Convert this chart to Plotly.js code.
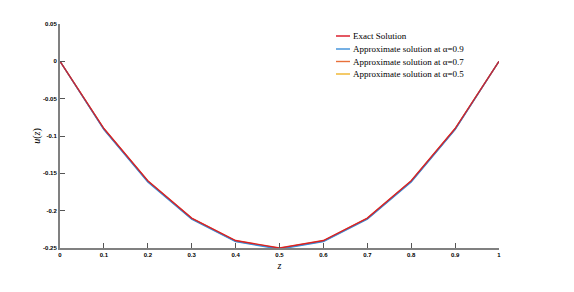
<!DOCTYPE html>
<html>
<head>
<meta charset="utf-8">
<script src="https://cdn.plot.ly/plotly-3.0.1.min.js"></script>
<style>html,body{margin:0;padding:0;background:#fff;}#chart{width:574px;height:292px;}</style>
</head>
<body>
<div id="chart"></div>
<script>
const z = [0, 0.1, 0.2, 0.3, 0.4, 0.5, 0.6, 0.7, 0.8, 0.9, 1];
const exactU = [0, -0.09, -0.16, -0.21, -0.24, -0.25, -0.24, -0.21, -0.16, -0.09, 0];
const approx09 = [0, -0.0915, -0.1615, -0.2115, -0.2415, -0.2515, -0.2415, -0.2115, -0.1615, -0.0915, 0];
const approx07 = [0, -0.0906, -0.1606, -0.2106, -0.2406, -0.2506, -0.2406, -0.2106, -0.1606, -0.0906, 0];
const approx05 = [0, -0.0903, -0.1603, -0.2103, -0.2403, -0.2503, -0.2403, -0.2103, -0.1603, -0.0903, 0];
const seriesNames = ["Exact Solution", "Approximate solution at \u03b1=0.9", "Approximate solution at \u03b1=0.7", "Approximate solution at \u03b1=0.5"];
const xTickVals = [0, 0.1, 0.2, 0.3, 0.4, 0.5, 0.6, 0.7, 0.8, 0.9, 1];
const xTickText = ["0", "0.1", "0.2", "0.3", "0.4", "0.5", "0.6", "0.7", "0.8", "0.9", "1"];
const yTickVals = [0.05, 0, -0.05, -0.1, -0.15, -0.2, -0.25];
const yTickText = ["0.05", "0", "-0.05", "-0.1", "-0.15", "-0.2", "-0.25"];

const colors = ["#d81020", "#3a8fd8", "#e8703a", "#f0b429"];
const ys = [exactU, approx09, approx07, approx05];
const order = [3, 2, 1, 0];
const traces = order.map(i => ({
  x: z, y: ys[i], type: "scatter", mode: "lines", name: seriesNames[i],
  line: {color: colors[i], width: 1.4}, opacity: i === 0 ? 0.85 : 1, showlegend: false
}));

// Compact legend (Plotly's own legend rows are taller than the reference's)
const L = 60, R = 499, T = 24, B = 248;
const px = v => (v - L) / (R - L);
const py = v => (B - v) / (B - T);
const rowY = [36, 49, 61.5, 74];
const shapes = [], annotations = [];
seriesNames.forEach((n, i) => {
  shapes.push({type: "line", xref: "paper", yref: "paper", x0: px(336), x1: px(350),
    y0: py(rowY[i]), y1: py(rowY[i]), line: {color: colors[i], width: 1.4}});
  annotations.push({xref: "paper", yref: "paper", x: px(351), y: py(rowY[i]), xanchor: "left",
    yanchor: "middle", showarrow: false, text: n,
    font: {family: "Liberation Serif", size: 9, color: "#000"}});
});

const layout = {
  width: 574, height: 292,
  margin: {l: 60, r: 75, t: 24, b: 44},
  paper_bgcolor: "#fff", plot_bgcolor: "#fff",
  showlegend: false, shapes, annotations,
  xaxis: {range: [0, 1], tickvals: xTickVals, ticktext: xTickText, ticks: "inside", ticklen: 5,
    tickcolor: "#555", tickwidth: 1, showline: true, linecolor: "#808080", linewidth: 2,
    showgrid: false, zeroline: false,
    tickfont: {family: "Liberation Sans", size: 6, color: "#000", weight: "bold"},
    title: {text: "<i>z</i>", font: {family: "Liberation Serif", size: 10, color: "#000"}, standoff: 5}},
  yaxis: {range: [-0.25, 0.05], tickvals: yTickVals, ticktext: yTickText, ticks: "inside", ticklen: 5,
    tickcolor: "#555", tickwidth: 1, showline: true, linecolor: "#808080", linewidth: 2,
    showgrid: false, zeroline: false,
    tickfont: {family: "Liberation Sans", size: 6, color: "#000", weight: "bold"},
    title: {text: "<i>u</i>(<i>z</i>)", font: {family: "Liberation Serif", size: 10, color: "#000"}, standoff: 1}}
};
Plotly.newPlot("chart", traces, layout, {displayModeBar: false, staticPlot: true});
</script>
</body>
</html>
